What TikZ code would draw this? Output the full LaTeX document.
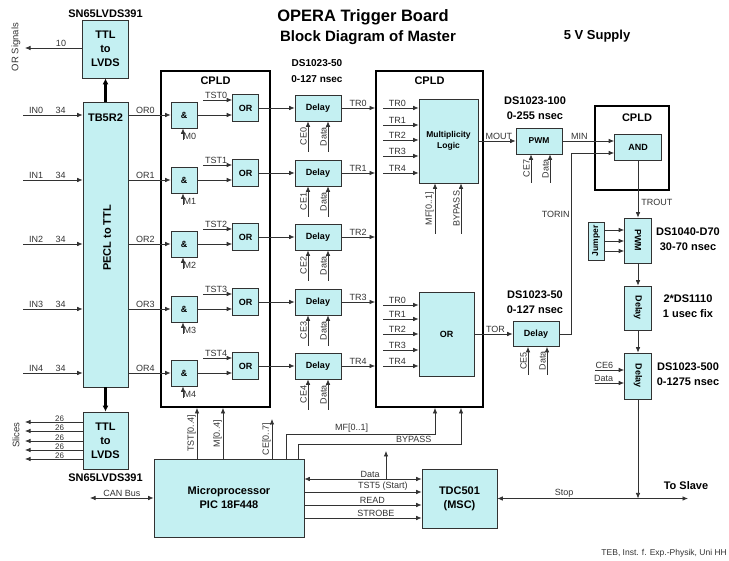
\documentclass[tikz,border=0pt]{standalone}
\usepackage{fontspec}
\setmainfont{Liberation Sans}
\usepackage{graphicx}
\usetikzlibrary{arrows.meta}
\definecolor{boxfill}{RGB}{196,240,242}
\definecolor{wire}{RGB}{50,50,50}

\tikzset{
  blk/.style={draw=wire, fill=boxfill, line width=0.7pt, inner sep=0pt, align=center,
    font=\bfseries\fontsize{9}{10}\selectfont},
  bigblk/.style={blk, font=\bfseries\fontsize{11}{14}\selectfont},
  cpld/.style={draw=black, line width=1.8pt, inner sep=0pt},
  wr/.style={draw=wire, line width=0.7pt},
  arr/.style={wr, -{Latex[length=5.5pt,width=4.5pt]}},
  darr/.style={wr, {Latex[length=5.5pt,width=4.5pt]}-{Latex[length=5.5pt,width=4.5pt]}},
  fat/.style={draw=black, line width=2.4pt, -{Latex[length=6pt,width=6pt]}},
  lbl/.style={font=\fontsize{9}{10}\selectfont, text=wire, inner sep=1pt},
  vlbl/.style={lbl, rotate=90, anchor=south},
  head/.style={font=\bfseries\fontsize{11}{13}\selectfont, align=center},
  partno/.style={font=\bfseries\fontsize{11}{15}\selectfont, align=center},
}

\begin{document}
\begin{tikzpicture}[x=1pt, y=-1pt]
    \useasboundingbox (0,0) rectangle (729,561);

    % --- Titles ---
    \node[font=\bfseries\fontsize{16.5}{18}\selectfont] (title) at (363,17) {OPERA Trigger Board};
    \node[font=\bfseries\fontsize{15}{17}\selectfont] (subtitle) at (368,38) {Block Diagram of Master};
    \node[font=\bfseries\fontsize{13}{15}\selectfont] (supply) at (597,36) {5 V Supply};

    % --- Receiver and LVDS drivers ---
    \node[bigblk, minimum width=45pt, minimum height=285pt] (tb) at (105.5,244.5) {};
    \node[head] (tbname) at (105.5,118) {TB5R2};
    \node[head, rotate=90] (tbtext) at (107,238) {PECL to TTL};

    \node[bigblk, minimum width=46pt, minimum height=58pt] (lvdsA) at (105.5,49) {TTL\\to\\LVDS};
    \node[head] (lvdsAname) at (105.5,14) {SN65LVDS391};
    \draw[fat] (tb.north) -- (lvdsA.south);
    \coordinate (orsig) at (25,48);
    \draw[arr] (lvdsA.west |- orsig) -- node[lbl, above, pos=0.37]{10} (orsig);
    \node[lbl, rotate=90, font=\fontsize{9.5}{10}\selectfont] (orsiglbl) at (16,47) {OR Signals};

    \node[bigblk, minimum width=45pt, minimum height=57pt] (lvdsB) at (105.5,440.5) {TTL\\to\\LVDS};
    \node[head] (lvdsBname) at (105.5,478) {SN65LVDS391};
    \draw[fat] (tb.south) -- (lvdsB.north);
    \foreach \yy in {422,431,441,450,459}
        \draw[arr] (lvdsB.west |- 0,\yy) -- node[lbl, above, pos=0.4, inner sep=0.3pt,
            font=\fontsize{8}{8}\selectfont]{26} (25,\yy);
    \node[lbl, rotate=90, font=\fontsize{9.5}{10}\selectfont] (slices) at (16,435) {Slices};

    % --- CPLD frames ---
    \node[cpld, minimum width=109pt, minimum height=336pt] (cpldA) at (215.5,239) {};
    \node[head] (cpldAlbl) at (215.5,81) {CPLD};
    \node[cpld, minimum width=107pt, minimum height=336pt] (cpldB) at (429.5,239) {};
    \node[head] (cpldBlbl) at (429.5,81) {CPLD};
    \node[partno, font=\bfseries\fontsize{10}{16}\selectfont] (dsA) at (317,71) {DS1023-50\\0-127 nsec};

    % --- Five input channels ---
    \foreach \r/\yr in {0/115,1/180,2/244,3/309,4/373} {
        \coordinate (in\r) at (23,\yr);
        \draw[arr] (in\r) -- node[lbl, above, pos=0.22]{IN\r} node[lbl, above, pos=0.63]{34} (in\r -| tb.west);
        \node[blk, minimum width=26pt, minimum height=26pt] (and\r) at (184,\yr) {\&};
        \node[blk, minimum width=26pt, minimum height=27pt] (or\r) at (245.5,\yr-7) {OR};
        \node[blk, minimum width=46pt, minimum height=26pt] (dly\r) at (318,\yr-7) {Delay};
        \draw[arr] (tb.east |- and\r) -- node[lbl, above, pos=0.4]{OR\r} (and\r);
        \draw[arr] (and\r) -- (and\r -| or\r.west);
        \coordinate (tst\r) at (203,\yr-15);
        \draw[arr] (tst\r) -- node[lbl, above, pos=0.45]{TST\r} (tst\r -| or\r.west);
        \coordinate (m\r) at (183,\yr+25);
        \draw[arr] (m\r) -- (m\r |- and\r.south);
        \node[lbl, anchor=south west, inner sep=0.5pt] (mlbl\r) at (m\r) {M\r};
        \draw[arr] (or\r) -- (dly\r);
        \coordinate (ce\r) at (308,\yr+37);
        \coordinate (da\r) at (328,\yr+37);
        \draw[arr] (ce\r) -- node[vlbl]{CE\r} (ce\r |- dly\r.south);
        \draw[arr] (da\r) -- node[vlbl]{Data} (da\r |- dly\r.south);
        \draw[arr] (dly\r) -- node[lbl, above]{TR\r} (dly\r -| cpldB.west);
    }

    % --- Multiplicity logic and OR in second CPLD ---
    \node[blk, minimum width=59pt, minimum height=84pt, font=\bfseries\fontsize{8.5}{11}\selectfont]
        (mult) at (448.5,141) {Multiplicity\\Logic};
    \foreach \j/\yy in {0/108,1/125,2/140,3/156,4/173} {
        \coordinate (mi\j) at (383,\yy);
        \draw[arr] (mi\j) -- node[lbl, above, pos=0.4]{TR\j} (mi\j -| mult.west);
    }
    \node[blk, minimum width=55pt, minimum height=84pt] (orB) at (446.5,334) {OR};
    \foreach \j/\yy in {0/305,1/319,2/334,3/350,4/366} {
        \coordinate (oi\j) at (383,\yy);
        \draw[arr] (oi\j) -- node[lbl, above, pos=0.4]{TR\j} (oi\j -| orB.west);
    }
    \coordinate (mfin) at (435,234);
    \coordinate (bpin) at (461,234);
    \draw[arr] (mfin) -- node[vlbl]{MF[0..1]} (mfin |- mult.south);
    \draw[arr] (bpin) -- node[vlbl]{BYPASS} (bpin |- mult.south);

    % --- Pulse width and final AND ---
    \node[partno] (dsB) at (535,108) {DS1023-100\\0-255 nsec};
    \node[blk, minimum width=46pt, minimum height=26pt, font=\bfseries\fontsize{8.5}{10}\selectfont] (pwmA) at (539,141) {PWM};
    \draw[arr] (mult.east |- pwmA) -- node[lbl, above, pos=0.55]{MOUT} (pwmA);
    \coordinate (ce7) at (531,183);
    \coordinate (da7) at (550,183);
    \draw[arr] (ce7) -- node[vlbl]{CE7} (ce7 |- pwmA.south);
    \draw[arr] (da7) -- node[vlbl]{Data} (da7 |- pwmA.south);

    \node[cpld, minimum width=74pt, minimum height=84pt] (cpldC) at (632,148) {};
    \node[head] (cpldClbl) at (637,118) {CPLD};
    \node[blk, minimum width=47pt, minimum height=26pt] (andC) at (638,147) {AND};
    \draw[arr] (pwmA.east) -- node[lbl, above, pos=0.33]{MIN} (pwmA.east -| andC.west);

    % --- OR path ---
    \node[partno] (dsC) at (535,302) {DS1023-50\\0-127 nsec};
    \node[blk, minimum width=46pt, minimum height=25pt] (dlyB) at (536,334) {Delay};
    \draw[arr] (orB) -- node[lbl, above, pos=0.55]{TOR} (dlyB);
    \coordinate (ce5) at (528,375);
    \coordinate (da5) at (547,375);
    \draw[arr] (ce5) -- node[vlbl]{CE5} (ce5 |- dlyB.south);
    \draw[arr] (da5) -- node[vlbl]{Data} (da5 |- dlyB.south);
    \coordinate (torin) at (571,153);
    \draw[arr] (dlyB.east) -| node[lbl, left, pos=0.83]{TORIN} (torin) -- (torin -| andC.west);

    % --- Output chain ---
    \node[blk, minimum width=27pt, minimum height=45pt] (pwmB) at (638,240.5) {\rotatebox{-90}{PWM}};
    \draw[arr] (andC) -- node[lbl, right, pos=0.74, xshift=2pt]{TROUT} (pwmB);
    \node[blk, minimum width=16pt, minimum height=38pt, font=\bfseries\fontsize{8.5}{9}\selectfont]
        (jmp) at (596,241) {\rotatebox{90}{Jumper}};
    \foreach \yy in {230,241,251}
        \draw[arr] (jmp.east |- 0,\yy) -- (pwmB.west |- 0,\yy);
    \node[partno] (dsD) at (688,239) {DS1040-D70\\30-70 nsec};

    \node[blk, minimum width=27pt, minimum height=44pt] (dlyV1) at (638,308) {\rotatebox{-90}{Delay}};
    \node[partno] (dsE) at (688,306) {2*DS1110\\1 usec fix};
    \draw[arr] (pwmB) -- (dlyV1);

    \node[blk, minimum width=27pt, minimum height=46pt] (dlyV2) at (638,376) {\rotatebox{-90}{Delay}};
    \node[partno] (dsF) at (688,374) {DS1023-500\\0-1275 nsec};
    \draw[arr] (dlyV1) -- (dlyV2);
    \coordinate (ce6) at (595,370);
    \coordinate (da6) at (595,383);
    \draw[arr] (ce6) -- node[lbl, above, pos=0.32]{CE6} (ce6 -| dlyV2.west);
    \draw[arr] (da6) -- node[lbl, above, pos=0.3]{Data} (da6 -| dlyV2.west);

    % --- TDC and stop line ---
    \node[bigblk, minimum width=75pt, minimum height=59pt] (tdc) at (459.5,498.5) {TDC501\\(MSC)};
    \coordinate (slave) at (688,498.5);
    \coordinate (stopj) at (638,498.5);
    \draw[darr] (tdc.east) -- node[lbl, above, pos=0.35]{Stop} (slave);
    \draw[arr] (dlyV2) -- (stopj);
    \node[font=\bfseries\fontsize{11}{13}\selectfont] (slavelbl) at (686,486) {To Slave};

    % --- Microprocessor ---
    \node[bigblk, minimum width=150pt, minimum height=78pt] (up) at (229,498) {Microprocessor\\PIC 18F448};
    \draw[darr] (up.east |- 0,479) -- node[lbl, above, pos=0.56]{Data} (tdc.west |- 0,479);
    \draw[arr] (up.east |- 0,492) -- node[lbl, above, pos=0.67]{TST5 (Start)} (tdc.west |- 0,492);
    \draw[arr] (up.east |- 0,505) -- node[lbl, above, pos=0.58]{READ} (tdc.west |- 0,505);
    \draw[arr] (up.east |- 0,518) -- node[lbl, above, pos=0.61]{STROBE} (tdc.west |- 0,518);
    \coordinate (dataup) at (386,451);
    \draw[arr] (dataup |- 0,479) -- (dataup);

    \draw[arr] (up.north -| 197,0) -- node[vlbl]{TST[0..4]} (cpldA.south -| 197,0);
    \draw[arr] (up.north -| 223,0) -- node[vlbl]{M[0..4]} (cpldA.south -| 223,0);
    \coordinate (ceall) at (272,419);
    \draw[arr] (up.north -| ceall) -- node[vlbl]{CE[0..7]} (ceall);

    \coordinate (mfcor) at (435,434);
    \coordinate (bpcor) at (461,444);
    \draw[arr] (up.north -| 286,0) |- node[lbl, above, pos=0.72]{MF[0..1]} (mfcor) -- (mfcor |- cpldB.south);
    \draw[arr] (up.north -| 298,0) |- node[lbl, above, pos=0.855]{BYPASS} (bpcor) -- (bpcor |- cpldB.south);

    \coordinate (can) at (90,498);
    \draw[darr] (can) -- node[lbl, above]{CAN Bus} (up.west);

    % --- Footer ---
    \node[lbl, anchor=east, font=\fontsize{8.5}{10}\selectfont] (credit) at (728,553) {TEB, Inst. f. Exp.-Physik, Uni HH};
\end{tikzpicture}
\end{document}
